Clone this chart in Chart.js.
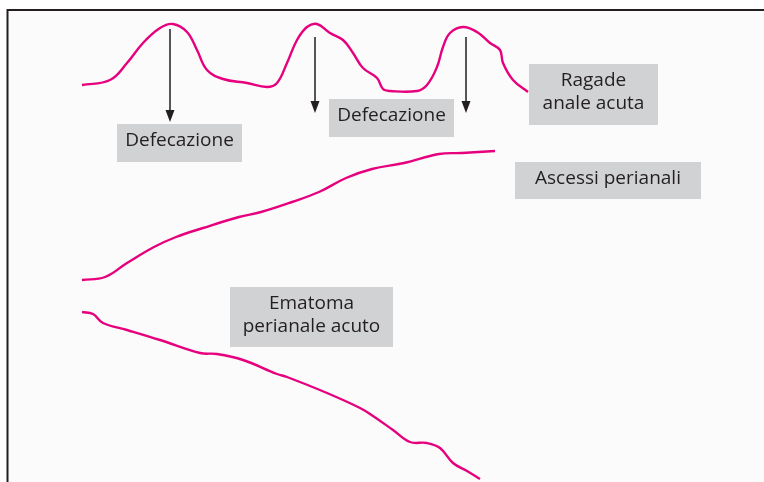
<!DOCTYPE html>
<html>
<head>
<meta charset="utf-8">
<script src="https://cdn.jsdelivr.net/npm/chart.js@4.4.0/dist/chart.umd.min.js"></script>
<style>
  html, body { margin: 0; padding: 0; background: #ffffff; }
  #wrap { width: 764px; height: 482px; position: relative; }
</style>
</head>
<body>
<div id="wrap"><canvas id="c"></canvas></div>
<script>
// Curve samples (x: horizontal units, y: vertical units, top = 0)
const ragadeX = [82, 110, 127, 143, 160, 173, 187, 197, 207, 223, 247, 267, 277, 287, 297, 307, 317, 330, 343, 353, 363, 377, 383, 390, 417, 427, 437, 443, 450, 463, 477, 490, 500, 503, 513, 528];
const ragadeY = [85, 80, 63, 43, 28, 24, 32, 50, 70, 79, 83, 87, 83, 63, 40, 27, 24, 33, 40, 53, 68, 78, 89, 91, 91, 85, 67, 47, 33, 27, 32, 43, 50, 63, 80, 92];

const ascessiX = [82, 105, 127, 154, 176, 203, 239, 261, 292, 319, 346, 372, 404, 439, 462, 495];
const ascessiY = [280, 277, 263, 247, 237, 228, 217, 212, 202, 192, 178, 169, 163, 154, 153, 151];

const ematomaX = [82, 93, 103, 127, 160, 200, 217, 243, 277, 287, 327, 360, 373, 393, 410, 427, 440, 453, 467, 480];
const ematomaY = [312, 314, 323, 330, 340, 353, 354, 360, 374, 377, 393, 408, 416, 430, 442, 443, 448, 463, 471, 479];

// Arrows (Defecazione): x position, start y, tip y
const arrowX = [170, 315, 466];
const arrowStartY = [29, 37, 37];
const arrowTipY = [122, 113, 113];

// Label texts
const labelTexts = [["Defecazione"], ["Defecazione"], ["Ragade", "anale acuta"], ["Ascessi perianali"], ["Ematoma", "perianale acuto"]];

// Label box extents (x0, x1, y0, y1) in the same units
const labelBoxes = [
  [117, 242, 124, 162],
  [329, 454, 99, 137],
  [529, 658, 64, 125],
  [515, 701, 162, 199],
  [230, 393, 287, 347]
];

function pts(xs, ys) { return xs.map((x, i) => ({ x: x, y: ys[i] })); }

const MAGENTA = '#e6007e';

const curveStyle = {
  borderColor: MAGENTA,
  borderWidth: 2.4,
  pointRadius: 0,
  tension: 0.4,
  showLine: true,
  fill: false
};

const datasets = [
  Object.assign({ label: 'Ragade anale acuta', data: pts(ragadeX, ragadeY) }, curveStyle),
  Object.assign({ label: 'Ascessi perianali', data: pts(ascessiX, ascessiY) }, curveStyle),
  Object.assign({ label: 'Ematoma perianale acuto', data: pts(ematomaX, ematomaY) }, curveStyle)
];
arrowX.forEach((x, i) => {
  datasets.push({
    label: 'arrow' + i,
    data: [{ x: x, y: arrowStartY[i] }, { x: x, y: arrowTipY[i] - 8 }],
    borderColor: '#231f20',
    borderWidth: 1.5,
    pointRadius: 0,
    showLine: true,
    tension: 0,
    fill: false
  });
});

const framePlugin = {
  id: 'frame',
  beforeDraw(chart) {
    const ctx = chart.ctx;
    const xs = chart.scales.x, ys = chart.scales.y;
    ctx.save();
    ctx.fillStyle = '#ffffff';
    ctx.fillRect(0, 0, chart.width, chart.height);
    const fx = xs.getPixelForValue(7.5), fy = ys.getPixelForValue(10);
    ctx.fillStyle = '#fbfbfb';
    ctx.fillRect(fx, fy, chart.width - fx, chart.height - fy);
    ctx.strokeStyle = '#231f20';
    ctx.lineWidth = 2;
    ctx.beginPath();
    ctx.moveTo(fx, chart.height);
    ctx.lineTo(fx, fy);
    ctx.lineTo(chart.width, fy);
    ctx.stroke();
    // label boxes
    ctx.fillStyle = '#d1d2d4';
    labelBoxes.forEach(b => {
      const x0 = xs.getPixelForValue(b[0]), x1 = xs.getPixelForValue(b[1]);
      const y0 = ys.getPixelForValue(b[2]), y1 = ys.getPixelForValue(b[3]);
      ctx.fillRect(x0, y0, x1 - x0, y1 - y0);
    });
    ctx.restore();
  },
  afterDatasetsDraw(chart) {
    const ctx = chart.ctx;
    const xs = chart.scales.x, ys = chart.scales.y;
    ctx.save();
    // arrow heads
    ctx.fillStyle = '#231f20';
    arrowX.forEach((x, i) => {
      const px = xs.getPixelForValue(x), tip = ys.getPixelForValue(arrowTipY[i]);
      ctx.beginPath();
      ctx.moveTo(px, tip);
      ctx.lineTo(px - 4.5, tip - 12);
      ctx.lineTo(px + 4.5, tip - 12);
      ctx.closePath();
      ctx.fill();
    });
    // label texts
    ctx.fillStyle = '#231f20';
    ctx.font = '19px "Open Sans", "Noto Sans", sans-serif';
    ctx.textAlign = 'center';
    ctx.textBaseline = 'middle';
    labelTexts.forEach((lines, i) => {
      const b = labelBoxes[i];
      const cx = xs.getPixelForValue((b[0] + b[1]) / 2);
      const cy = ys.getPixelForValue((b[2] + b[3]) / 2) - 2;
      const lh = 23;
      lines.forEach((t, j) => {
        const y = cy + (j - (lines.length - 1) / 2) * lh;
        ctx.fillText(t, cx, y);
      });
    });
    ctx.restore();
  }
};

new Chart(document.getElementById('c'), {
  type: 'scatter',
  data: { datasets: datasets },
  options: {
    responsive: true,
    maintainAspectRatio: false,
    animation: false,
    layout: { padding: 0 },
    plugins: { legend: { display: false }, tooltip: { enabled: false } },
    scales: {
      x: { type: 'linear', min: 0, max: 764, display: false },
      y: { type: 'linear', min: 0, max: 482, reverse: true, display: false }
    }
  },
  plugins: [framePlugin]
});
</script>
</body>
</html>
